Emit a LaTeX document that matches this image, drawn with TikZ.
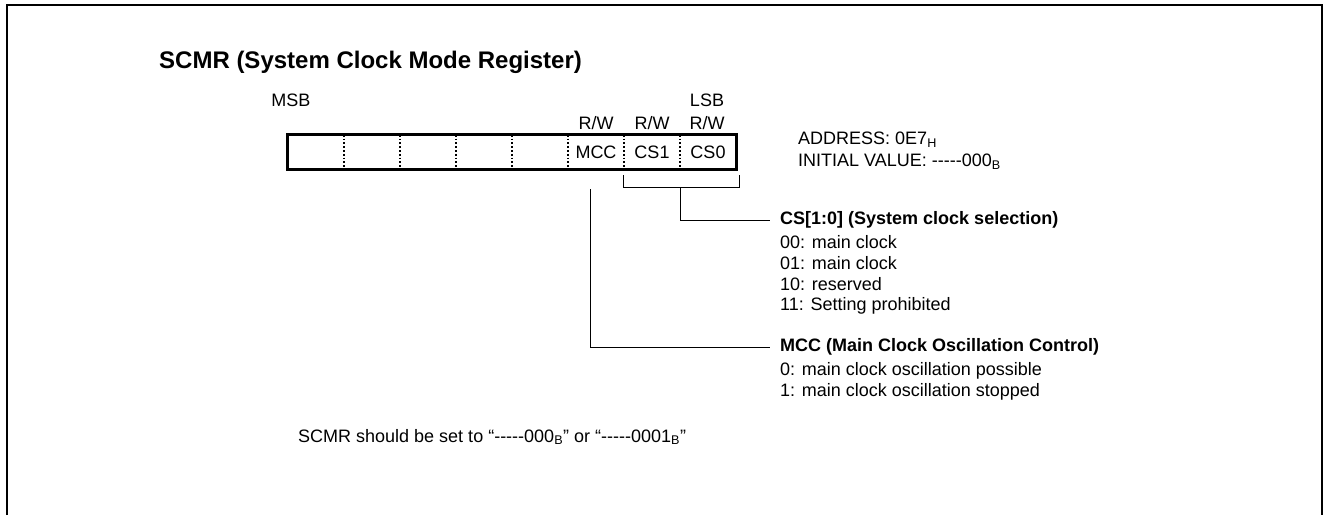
\documentclass[tikz,border=0pt]{standalone}
\usepackage{fontspec}
\setmainfont{Liberation Sans}
\usetikzlibrary{positioning,calc}
\newcommand{\fivedash}{-{}-{}-{}-{}-}
\tikzset{
  nd_title/.style={inner sep=0pt,anchor=west,font=\fontsize{24}{28}\selectfont\bfseries},
  nd_cell/.style={rectangle,minimum width=56pt,minimum height=34pt,inner sep=0pt,font=\fontsize{18}{21}\selectfont},
  nd_txt/.style={inner sep=0pt,font=\fontsize{18}{21}\selectfont},
  nd_head/.style={inner sep=0pt,anchor=west,font=\fontsize{18}{21}\selectfont\bfseries},
  nd_desc/.style={inner sep=0pt,anchor=north west,align=left,font=\fontsize{18}{20.7}\selectfont},
  reg_box/.style={line width=3pt},
  reg_div/.style={line width=1.8pt,dotted},
  ln/.style={line width=1pt},
}
\begin{document}
\begin{tikzpicture}[x=1pt,y=1pt]

\useasboundingbox (0,0) rectangle (1323,-515);

% frame (open at the bottom)
\draw[line width=1.6pt] (7,-515) -- (7,-5) -- (1322,-5) -- (1322,-515);

\node[nd_title] (title) at (159,-62) {SCMR (System Clock Mode Register)};

% register cells
\foreach \i/\t in {1/{},2/{},3/{},4/{},5/{},6/MCC,7/CS1,8/CS0}
  \node[nd_cell] (c\i) at ({260+56*\i},-152) {\t};
\draw[reg_box] (c1.north west) rectangle (c8.south east);
\foreach \i in {1,...,7}
  \draw[reg_div] (c\i.north east) -- (c\i.south east);

\node[nd_txt] (msb) at (291,-100) {MSB};
\node[nd_txt] (lsb) at (707,-100) {LSB};
\node[nd_txt] (rw6) at (596,-123) {R/W};
\node[nd_txt] (rw7) at (652,-123) {R/W};
\node[nd_txt] (rw8) at (707,-123) {R/W};

\node[nd_txt,anchor=west] (addr) at (798,-140) {ADDRESS: 0E7\textsubscript{H}};
\node[nd_txt,anchor=west] (init) at (798,-162) {INITIAL VALUE: \fivedash 000\textsubscript{B}};

% bit descriptions
\node[nd_head] (csH) at (780,-220) {CS[1:0] (System clock selection)};
\node[nd_desc,below=7pt of csH.south west,anchor=north west] (csD)
  {00: main clock\\01: main clock\\10: reserved\\11: Setting prohibited};
\node[nd_head] (mccH) at (780,-347) {MCC (Main Clock Oscillation Control)};
\node[nd_desc,below=7pt of mccH.south west,anchor=north west] (mccD)
  {0: main clock oscillation possible\\1: main clock oscillation stopped};

% brackets and leader lines
\coordinate (bkL) at ($(c7.south west)+(0,-6)$);
\coordinate (bkR) at ($(c8.south east)+(3,-6)$);
\coordinate (bkM) at ($(c7.south east)+(0,-18)$);
\coordinate (mccT) at ($(c6.south)+(-6,-20)$);
\draw[ln] (bkL) -- ++(0,-12) -| (bkR);
\draw[ln,shorten >=10pt] (bkM) |- (csH.west);
\draw[ln,shorten >=10pt] (mccT) |- (mccH.west);

\node[nd_txt,anchor=west] (note) at (298,-437)
  {SCMR should be set to “\fivedash 000\textsubscript{B}” or “\fivedash 0001\textsubscript{B}”};

\end{tikzpicture}
\end{document}
